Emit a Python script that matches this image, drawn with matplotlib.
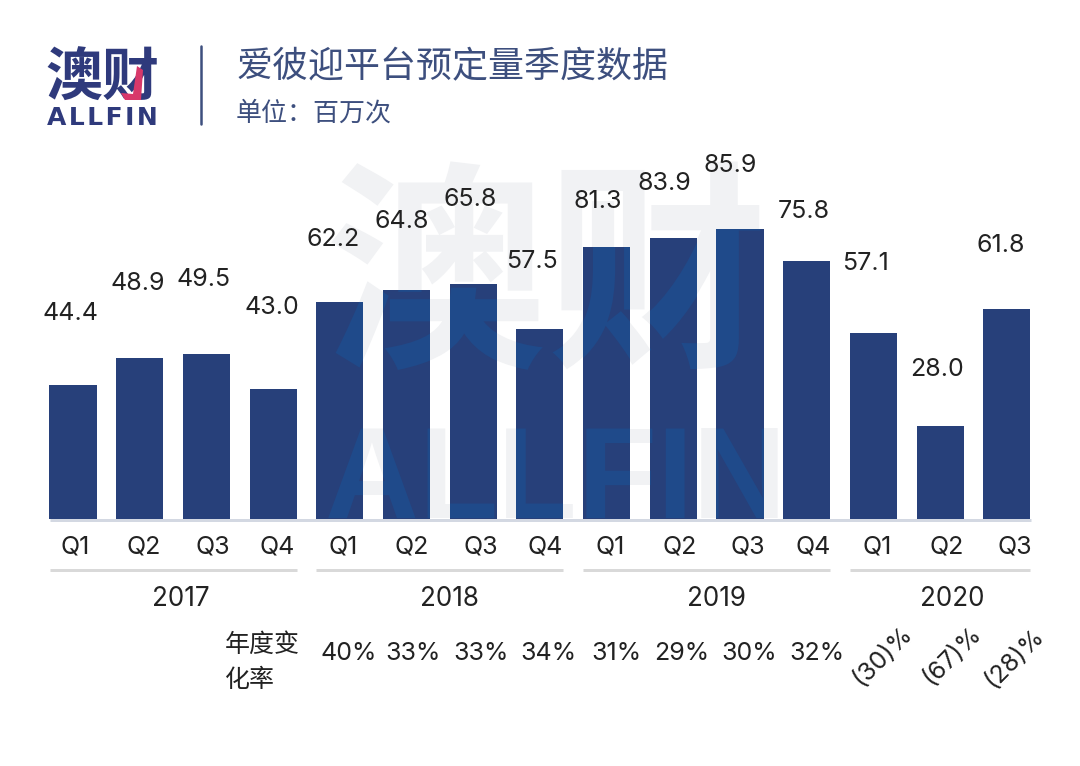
"""
Aiqiyi (爱彼迎) quarterly booking volume bar chart, redrawn in matplotlib.
"""

import matplotlib
matplotlib.use('Agg')
import matplotlib.pyplot as plt
import numpy as np
from matplotlib.font_manager import FontProperties
from matplotlib.patches import PathPatch, Polygon
from matplotlib.path import Path
from matplotlib.textpath import TextPath
from matplotlib.transforms import Affine2D

WIDTH, HEIGHT = 1080, 766
DPI = 100

quarters = ['Q1', 'Q2', 'Q3', 'Q4', 'Q1', 'Q2', 'Q3', 'Q4',
            'Q1', 'Q2', 'Q3', 'Q4', 'Q1', 'Q2', 'Q3']
# printed labels
bookings = ['44.4', '48.9', '49.5', '43.0', '62.2', '64.8', '65.8', '57.5',
            '81.3', '83.9', '85.9', '75.8', '57.1', '28.0', '61.8']
# bar heights as drawn, the original art does not quite follow its labels
bar_heights = [39.5, 47.5, 48.8, 38.4, 64.1, 67.8, 69.6, 56.0,
               80.3, 83.2, 85.9, 76.4, 54.8, 27.4, 62.2]
years = ['2017', '2018', '2019', '2020']
year_spans = [(0, 3), (4, 7), (8, 11), (12, 14)]
yoy_change = ['40%', '33%', '33%', '34%', '31%', '29%', '30%', '32%',
              '(30)%', '(67)%', '(28)%']

# label centres, pixels from the top left of the picture
label_xy = [(70, 313), (138, 282), (204, 279), (272, 307), (333, 239),
            (402, 220), (470, 199), (532, 260), (598, 201), (664, 183),
            (730, 165), (804, 211), (866, 263), (937, 368), (1001, 245)]
quarter_x = [75, 144, 213, 277, 343, 412, 481, 545, 610, 680, 748, 813, 877, 947, 1015]
year_x = [181, 449, 716, 952]
yoy_x = [349, 413, 481, 548, 616, 682, 749, 817]
yoy_rot_xy = [(883, 656), (952, 656), (1015, 658)]

BAR = '#27407a'
BAR_LIGHT = '#1f4a8a'
NAVY = '#2f3a7c'
TITLE = '#3d4f7e'
TEXT = '#222222'
RULE = '#d9d9d9'

CJK = ['Noto Sans CJK SC', 'DejaVu Sans']
NUM = ['Inter', 'DejaVu Sans']


def pt(px):
    """Font size in points for a size in pixels."""
    return px * 72 / DPI


fig = plt.figure(figsize=(WIDTH / DPI, HEIGHT / DPI), dpi=DPI, facecolor='white')

# page axes, one unit is one pixel, y runs downwards
page = fig.add_axes([0, 0, 1, 1], zorder=0)
page.set_xlim(0, WIDTH)
page.set_ylim(HEIGHT, 0)
page.axis('off')

# bar axes, x is the quarter index
x0, step, base, scale = 73, 66.7, 518.5, 290 / 85.9
ax = fig.add_axes([(x0 - step / 2) / WIDTH, (HEIGHT - base) / HEIGHT,
                   15 * step / WIDTH, 100 * scale / HEIGHT], zorder=1)
ax.patch.set_alpha(0)
ax.set_xlim(-0.5, 14.5)
ax.set_ylim(0, 100)
ax.axis('off')

# watermark behind the bars
wm_items = [('澳财', 325, 350, 222, FontProperties(family='Noto Sans CJK SC', weight='bold')),
            ('ALLFIN', 325, 518, 130, FontProperties(family='Liberation Sans', weight='bold'))]
for s, wx, wy, size, fp in wm_items:
    page.text(wx, wy, s, fontproperties=fp, fontsize=pt(size), color='#f1f2f4',
              ha='left', va='baseline')

bars = ax.bar(np.arange(len(bar_heights)), bar_heights, width=0.705, color=BAR, zorder=2)

# the watermark also shows through the bars as a lighter blue
fig.canvas.draw()
bar_path = Path.make_compound_path(
    *[b.get_path().transformed(b.get_transform()) for b in bars])
for s, wx, wy, size, fp in wm_items:
    tp = TextPath((0, 0), s, size=size, prop=fp)
    patch = PathPatch(tp, transform=Affine2D().translate(wx, HEIGHT - wy), lw=0,
                      facecolor=BAR_LIGHT, zorder=3)
    ax.add_artist(patch)
    patch.set_clip_path(bar_path, Affine2D())

# baseline and year rules
page.plot([50, 1031], [519.5, 519.5], color='#d3d8e2', lw=pt(3), solid_capstyle='butt')
for (a, b), year in zip(year_spans, years):
    left = x0 + a * step - 23.5
    right = x0 + b * step + 23.5
    page.plot([left, right], [570, 570], color=RULE, lw=pt(3), solid_capstyle='butt')
for year, yx in zip(years, year_x):
    page.text(yx, 599, year, family=NUM, fontsize=pt(26), color=TEXT, ha='center', va='center')

for label, (lx, ly) in zip(bookings, label_xy):
    page.text(lx, ly + 1, label, family=NUM, fontsize=pt(25), color=TEXT, ha='center', va='center')
for q, qx in zip(quarters, quarter_x):
    page.text(qx, 547, q, family=NUM, fontsize=pt(25), color=TEXT, ha='center', va='center')

# year on year row
page.text(225, 645, '年度变', family=CJK, fontsize=pt(25), color=TEXT, ha='left', va='center')
page.text(225, 680, '化率', family=CJK, fontsize=pt(25), color=TEXT, ha='left', va='center')
for s, yx in zip(yoy_change[:8], yoy_x):
    page.text(yx, 653, s, family=NUM, fontsize=pt(25), color=TEXT, ha='center', va='center')
for s, (rx, ry) in zip(yoy_change[8:], yoy_rot_xy):
    page.text(rx, ry, s, family=NUM, fontsize=pt(25), color=TEXT, rotation=45,
              ha='center', va='center', rotation_mode='anchor')

# header
page.text(45, 79, '澳财', family=CJK, weight='bold', fontsize=pt(57), color=NAVY, ha='left', va='center')
page.add_patch(Polygon([(137, 66), (143, 70), (141, 100), (125, 100), (121, 93), (133, 94)],
                       closed=True, facecolor='#d8386a', edgecolor='none', zorder=3))
page.text(102, 118, 'A\u200aL\u200aL\u200aF\u200aI\u200aN', family='DejaVu Sans', weight='bold',
          fontsize=pt(25), color=NAVY, ha='center', va='center')
page.plot([201, 201], [46, 124], color=TITLE, lw=pt(2.5), solid_capstyle='round')
page.text(236, 67, '爱彼迎平台预定量季度数据', family=CJK, fontsize=pt(36), color=TITLE, ha='left', va='center')
page.text(236, 113, '单位\uff1a百万次', family=CJK, fontsize=pt(26), color=TITLE, ha='left', va='center')

fig.savefig('out.png', dpi=DPI, facecolor='white')
